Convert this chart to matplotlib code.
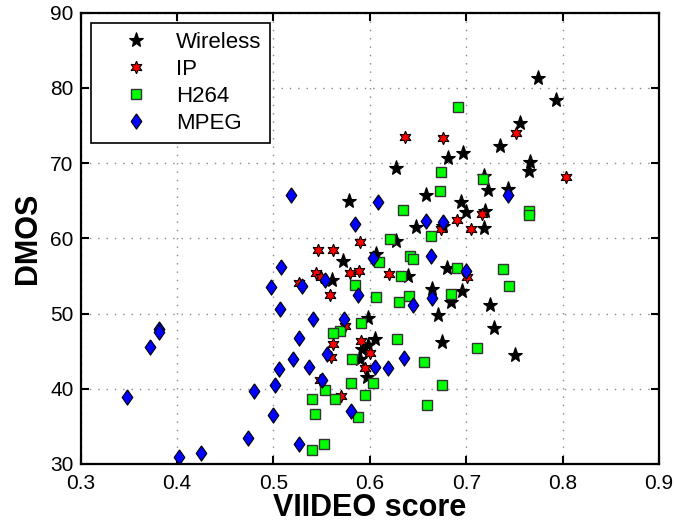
import matplotlib
matplotlib.use('Agg')
from matplotlib import pyplot as plt

# scores
wireless_x = [0.775, 0.793, 0.756, 0.735, 0.697, 0.681, 0.766, 0.765, 0.627, 0.718,
              0.723, 0.743, 0.658, 0.578, 0.695, 0.700, 0.720, 0.648, 0.676, 0.718,
              0.627, 0.606, 0.572, 0.561, 0.640, 0.680, 0.664, 0.696, 0.684, 0.725,
              0.598, 0.671, 0.729, 0.675, 0.605, 0.592, 0.598, 0.590, 0.597, 0.751]
wireless_y = [81.3, 78.4, 75.3, 72.3, 71.4, 70.7, 70.2, 69.0, 69.4, 68.3,
              66.4, 66.6, 65.8, 65.0, 64.8, 63.5, 63.6, 61.5, 61.7, 61.4,
              59.6, 57.9, 57.0, 54.5, 55.0, 56.0, 53.2, 53.0, 51.5, 51.1,
              49.4, 49.8, 48.1, 46.2, 46.6, 45.3, 45.8, 44.0, 41.5, 44.5]

ip_x = [0.804, 0.752, 0.676, 0.636, 0.716, 0.690, 0.674, 0.705, 0.590, 0.546,
        0.562, 0.544, 0.549, 0.527, 0.579, 0.589, 0.620, 0.701, 0.559, 0.574,
        0.591, 0.562, 0.600, 0.560, 0.595, 0.548, 0.570]
ip_y = [68.2, 74.0, 73.4, 73.5, 63.3, 62.4, 61.3, 61.3, 59.5, 58.5,
        58.5, 55.4, 54.9, 54.1, 55.4, 55.6, 55.3, 54.8, 52.5, 48.4,
        46.3, 45.9, 44.8, 44.2, 42.7, 41.1, 39.1]

h264_x = [0.691, 0.674, 0.717, 0.673, 0.634, 0.765, 0.765, 0.663, 0.621, 0.610,
          0.642, 0.645, 0.632, 0.690, 0.738, 0.744, 0.585, 0.606, 0.630, 0.641,
          0.684, 0.591, 0.569, 0.562, 0.628, 0.711, 0.582, 0.656, 0.580, 0.603,
          0.554, 0.675, 0.540, 0.564, 0.595, 0.659, 0.543, 0.588, 0.540, 0.552]
h264_y = [77.4, 68.8, 67.9, 66.3, 63.8, 63.7, 63.1, 60.3, 59.9, 56.9,
          57.7, 57.2, 55.0, 56.1, 55.9, 53.7, 53.8, 52.2, 51.6, 52.4,
          52.6, 48.8, 47.7, 47.4, 46.6, 45.4, 44.0, 43.6, 40.8, 40.8,
          39.8, 40.5, 38.7, 38.7, 39.2, 37.9, 36.6, 36.3, 31.9, 32.6]

mpeg_x = [0.518, 0.508, 0.497, 0.530, 0.507, 0.541, 0.381, 0.381, 0.372, 0.526,
          0.520, 0.537, 0.506, 0.502, 0.480, 0.348, 0.500, 0.474, 0.526, 0.402,
          0.425, 0.608, 0.585, 0.658, 0.676, 0.603, 0.663, 0.553, 0.700, 0.588,
          0.645, 0.664, 0.573, 0.556, 0.635, 0.605, 0.619, 0.550, 0.580, 0.743]
mpeg_y = [65.8, 56.2, 53.5, 53.7, 50.6, 49.3, 48.0, 47.5, 45.6, 46.8,
          44.0, 42.9, 42.6, 40.5, 39.7, 38.9, 36.5, 33.5, 32.7, 30.9,
          31.5, 64.8, 61.9, 62.3, 62.2, 57.4, 57.6, 54.4, 55.7, 52.5,
          51.1, 52.1, 49.3, 44.6, 44.1, 42.9, 42.8, 41.1, 37.0, 65.7]

plt.rcParams['font.family'] = ['Liberation Sans', 'DejaVu Sans']

# matlab style diamond, taller than wide
diamond = [(0, 1), (0.7, 0), (0, -1), (-0.7, 0), (0, 1)]

fig = plt.figure(figsize=(6.74, 5.29), dpi=100)
ax = fig.add_axes([0.1197, 0.1229, 0.8580, 0.8531])

ax.plot(wireless_x, wireless_y, linestyle='none', marker='*', ms=11,
        mfc='k', mec='k', mew=0.8, label='Wireless')
ax.plot(ip_x, ip_y, linestyle='none', marker=(6, 1, 0), ms=9,
        mfc='r', mec='k', mew=0.8, label='IP')
ax.plot(h264_x, h264_y, linestyle='none', marker='s', ms=6.5,
        mfc=(0, 1, 0), mec='#333333', mew=1.0, label='H264')
ax.plot(mpeg_x, mpeg_y, linestyle='none', marker=diamond, ms=11,
        mfc='b', mec='k', mew=0.8, label='MPEG')

ax.set_xlim(0.3, 0.9)
ax.set_ylim(30, 90)
ax.set_xticks([0.3, 0.4, 0.5, 0.6, 0.7, 0.8, 0.9])
ax.set_yticks([30, 40, 50, 60, 70, 80, 90])
ax.grid(True, linestyle=(0, (1, 5)), color='#888888', linewidth=1)
ax.tick_params(direction='in', length=6, width=1.5, labelsize=15,
               top=True, right=True)
ax.tick_params(axis='x', pad=7)
ax.tick_params(axis='y', pad=5)
for s in ax.spines.values():
    s.set_linewidth(1.6)

ax.set_xlabel('VIIDEO score', fontsize=22, fontweight='bold', labelpad=0)
ax.set_ylabel('DMOS', fontsize=22, fontweight='bold', labelpad=5)

leg = ax.legend(loc='upper left', fontsize=16, numpoints=1, fancybox=False,
                edgecolor='k', framealpha=1, borderpad=0.4, labelspacing=0.28,
                handlelength=3.3, handletextpad=0.15, borderaxespad=0.45)
leg.get_frame().set_linewidth(1.2)

plt.savefig('out.png', dpi=100)
